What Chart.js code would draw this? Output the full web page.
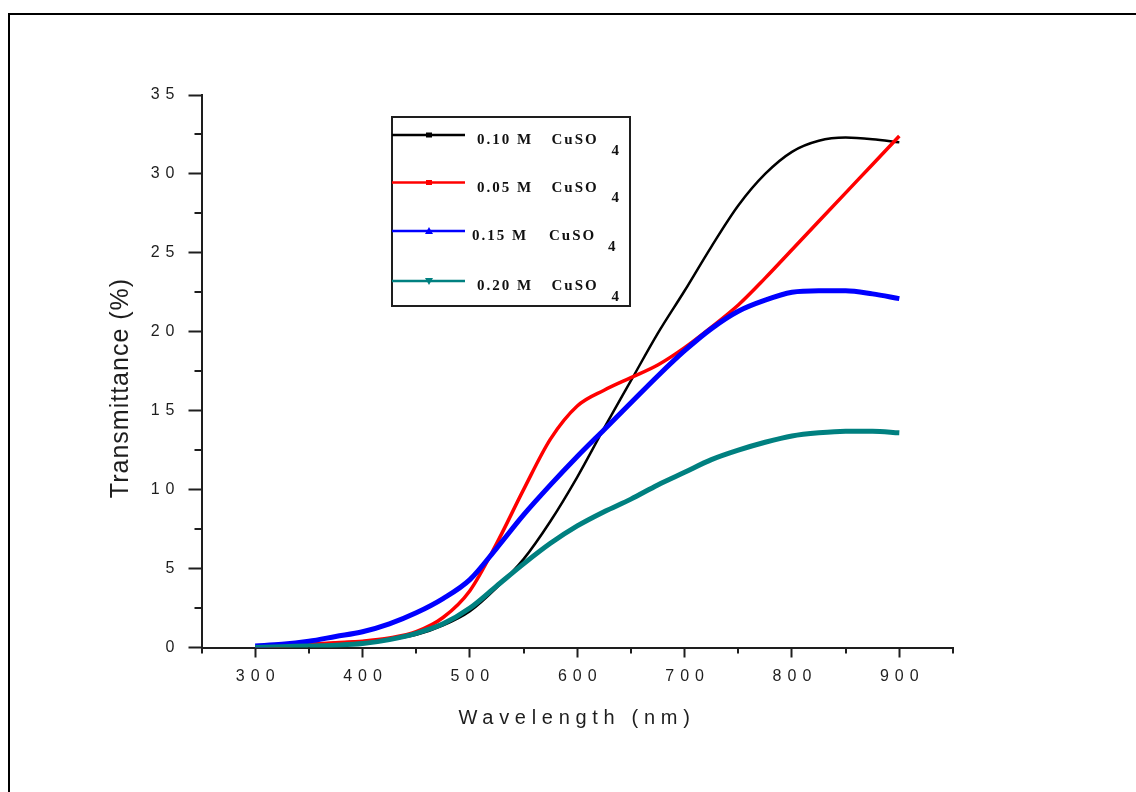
<!DOCTYPE html>
<html>
<head>
<meta charset="utf-8">
<script src="https://cdn.jsdelivr.net/npm/chart.js@4.4.1/dist/chart.umd.min.js"></script>
<style>
  html, body { margin: 0; padding: 0; background: #fff; }
  #wrap { position: relative; width: 1136px; height: 792px; overflow: hidden; }
  #frame { position: absolute; left: 8px; top: 13px; width: 1200px; height: 900px;
           border-top: 2px solid #000; border-left: 2px solid #000; }
  canvas { position: absolute; left: 0; top: 0; }
</style>
</head>
<body>
<div id="wrap">
  <div id="frame"></div>
  <canvas id="chart" width="1136" height="792"></canvas>
</div>
<script>
// transmittance spectra of the films, one series per CuSO4 concentration
var wavelength = [300, 325, 350, 375, 400, 425, 450, 475, 500, 525, 550, 575, 600,
                  625, 650, 675, 700, 725, 750, 775, 800, 825, 850, 875, 900];

var t010 = [0.05, 0.1, 0.2, 0.3, 0.4, 0.5, 0.8, 1.4, 2.3, 3.8, 5.6, 8.0, 10.8,
            13.9, 16.9, 19.9, 22.6, 25.4, 28.0, 30.0, 31.4, 32.1, 32.3, 32.2, 32.0];
var t005 = [0.05, 0.1, 0.2, 0.3, 0.4, 0.6, 1.0, 1.9, 3.6, 6.6, 10.0, 13.2, 15.3,
            16.3, 17.1, 17.9, 19.0, 20.3, 21.7, 23.4, 25.2, 27.0, 28.8, 30.6, 32.4];
var t015 = [0.1, 0.2, 0.4, 0.7, 1.0, 1.5, 2.2, 3.1, 4.3, 6.3, 8.4, 10.3, 12.1,
            13.8, 15.5, 17.2, 18.8, 20.2, 21.3, 22.0, 22.5, 22.6, 22.6, 22.4, 22.1];
var t020 = [0.0, 0.05, 0.1, 0.15, 0.25, 0.5, 0.9, 1.5, 2.5, 3.9, 5.3, 6.6, 7.7,
            8.6, 9.4, 10.3, 11.1, 11.9, 12.5, 13.0, 13.4, 13.6, 13.7, 13.7, 13.6];

var concentrations = ['0.10', '0.05', '0.15', '0.20'];
var lineColors = ['#000000', '#ff0000', '#0000ff', '#008080'];
var symbols = ['square', 'square', 'triangle', 'triangleDown'];

var xTicks = [300, 400, 500, 600, 700, 800, 900];
var xMinorTicks = [250, 350, 450, 550, 650, 750, 850, 950];
var yMinorTicks = [2.5, 7.5, 12.5, 17.5, 22.5, 27.5, 32.5];

function toPoints(values) {
  return wavelength.map(function (w, i) { return { x: w, y: values[i] }; });
}

var series = [t010, t005, t015, t020];
var widths = [2.5, 3.5, 5, 5];

var datasets = series.map(function (values, i) {
  return {
    label: concentrations[i] + ' M CuSO4',
    data: toPoints(values),
    borderColor: lineColors[i],
    backgroundColor: lineColors[i],
    borderWidth: widths[i],
    pointRadius: 0,
    cubicInterpolationMode: 'monotone',
    order: 4 - i   // last series ends up on top
  };
});

var ink = '#1e1e1e';

// spaced-out tick digits
var spacingPlugin = {
  id: 'tickSpacing',
  beforeDraw: function (chart) {
    chart.ctx.letterSpacing = '6px';
  }
};

function drawSymbol(ctx, kind, x, y, color) {
  ctx.fillStyle = color;
  ctx.beginPath();
  if (kind === 'square') {
    ctx.rect(x - 3, y - 2.5, 6, 5);
  } else if (kind === 'triangle') {
    ctx.moveTo(x, y - 4); ctx.lineTo(x + 4, y + 3); ctx.lineTo(x - 4, y + 3);
  } else {
    ctx.moveTo(x, y + 4); ctx.lineTo(x + 4, y - 3); ctx.lineTo(x - 4, y - 3);
  }
  ctx.closePath();
  ctx.fill();
}

var decorPlugin = {
  id: 'decor',
  afterDraw: function (chart) {
    var ctx = chart.ctx;
    var xs = chart.scales.x, ys = chart.scales.y;
    ctx.save();

    // minor ticks
    ctx.strokeStyle = ink;
    ctx.lineWidth = 2;
    ctx.beginPath();
    xMinorTicks.forEach(function (v) {
      var px = Math.round(xs.getPixelForValue(v));
      ctx.moveTo(px, xs.top);
      ctx.lineTo(px, xs.top + 6);
    });
    yMinorTicks.forEach(function (v) {
      var py = Math.round(ys.getPixelForValue(v));
      ctx.moveTo(ys.right, py);
      ctx.lineTo(ys.right - 7, py);
    });
    ctx.stroke();

    // axis titles
    ctx.fillStyle = ink;
    ctx.textAlign = 'center';
    ctx.textBaseline = 'middle';
    ctx.font = '20px "Liberation Sans"';
    ctx.letterSpacing = '5.7px';
    ctx.fillText('Wavelength (nm)', 577, 718);

    ctx.save();
    ctx.translate(121, 388);
    ctx.rotate(-Math.PI / 2);
    ctx.font = '25px "Liberation Sans"';
    ctx.letterSpacing = '1px';
    ctx.fillText('Transmittance (%)', 0, 0);
    ctx.restore();

    // legend
    var rowY = [135, 182.5, 231, 281];
    var textX = [477, 477, 472, 477];
    var formulaX = [551.5, 551.5, 549, 551.5];
    var subX = [611.5, 611.5, 608, 611.5];
    ctx.letterSpacing = '0px';
    ctx.strokeStyle = ink;
    ctx.lineWidth = 2;
    ctx.strokeRect(392, 117, 238, 189);
    ctx.textAlign = 'left';
    ctx.textBaseline = 'alphabetic';
    chart.data.datasets.forEach(function (ds, i) {
      var y = rowY[i];
      ctx.strokeStyle = ds.borderColor;
      ctx.lineWidth = 2.5;
      ctx.beginPath();
      ctx.moveTo(392, y);
      ctx.lineTo(465, y);
      ctx.stroke();
      drawSymbol(ctx, symbols[i], 429, y, ds.borderColor);

      ctx.fillStyle = '#111';
      ctx.font = 'bold 15px "Liberation Serif"';
      ctx.letterSpacing = '2px';
      ctx.fillText(concentrations[i] + ' M', textX[i], y + 9);
      ctx.fillText('CuSO', formulaX[i], y + 9);
      ctx.fillText('4', subX[i], y + 19.5);
    });

    ctx.restore();
    ctx.letterSpacing = '0px';
  }
};

new Chart(document.getElementById('chart'), {
  type: 'line',
  data: { datasets: datasets },
  options: {
    responsive: false,
    animation: false,
    devicePixelRatio: 1,
    layout: { padding: { top: 95, right: 183, left: 0, bottom: 0 } },
    plugins: {
      legend: { display: false },
      tooltip: { enabled: false }
    },
    scales: {
      x: {
        type: 'linear',
        min: 250,
        max: 950,
        afterBuildTicks: function (scale) {
          scale.ticks = xTicks.map(function (v) { return { value: v }; });
        },
        afterFit: function (scale) { scale.height = 144.5; },
        grid: { drawOnChartArea: false, drawTicks: true, tickLength: 10,
                tickWidth: 2, tickColor: ink },
        border: { display: true, color: ink, width: 2 },
        ticks: {
          color: ink, padding: 9, labelOffset: 3, maxRotation: 0,
          font: { family: 'Liberation Sans', size: 16 }
        }
      },
      y: {
        type: 'linear',
        min: 0,
        max: 35,
        afterFit: function (scale) { scale.width = 201.5; },
        grid: { drawOnChartArea: false, drawTicks: true, tickLength: 13,
                tickWidth: 2, tickColor: ink },
        border: { display: true, color: ink, width: 2 },
        ticks: {
          stepSize: 5, color: ink, padding: 8,
          font: { family: 'Liberation Sans', size: 16 }
        }
      }
    }
  },
  plugins: [spacingPlugin, decorPlugin]
});
</script>
</body>
</html>
